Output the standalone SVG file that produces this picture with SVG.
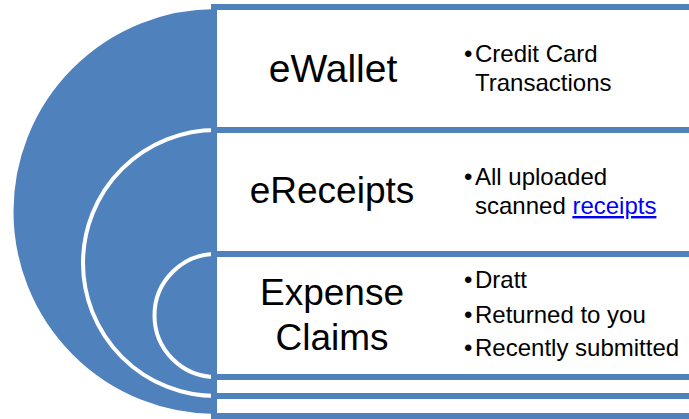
<svg xmlns="http://www.w3.org/2000/svg" width="689" height="419" viewBox="0 0 689 419">
<style>
.arc{fill:#4F81BD;stroke:#FFFFFF;stroke-width:4}
.box{fill:#FFFFFF;stroke:#4F81BD;stroke-width:6}
.lbl{font-family:"Liberation Sans",Arial,sans-serif;font-size:37px;fill:#000;text-anchor:middle}
.bul{font-family:"Liberation Sans",Arial,sans-serif;font-size:24px;fill:#000}
.lnk{fill:#0000FF;text-decoration:underline}
</style>
<g id="target">
<path class="arc" d="M216 7 A204.5 204.5 0 0 0 216 416 Z"/>
<path class="arc" d="M216 130 A133 133 0 0 0 216 396 Z"/>
<path class="arc" d="M216 254 A61.5 61.5 0 0 0 216 377 Z"/>
</g>
<g id="ewallet">
<rect class="box" x="214" y="7" width="480" height="409"/>
<text class="lbl" x="333" y="82" style="font-size:39px">eWallet</text>
<text class="bul" x="464" y="62">•<tspan x="475">Credit Card</tspan></text>
<text class="bul" x="475" y="91">Transactions</text>
</g>
<g id="ereceipts">
<rect class="box" x="214" y="130" width="480" height="266"/>
<text class="lbl" x="332" y="203">eReceipts</text>
<text class="bul" x="464" y="185">•<tspan x="475">All uploaded</tspan></text>
<text class="bul" x="475" y="214">scanned <tspan class="lnk">receipts</tspan></text>
</g>
<g id="expense">
<rect class="box" x="214" y="254" width="480" height="123"/>
<text class="lbl" x="332" y="305">Expense</text>
<text class="lbl" x="332" y="350">Claims</text>
<text class="bul" x="464" y="288">•<tspan x="475">Dratt</tspan></text>
<text class="bul" x="464" y="323">•<tspan x="475">Returned to you</tspan></text>
<text class="bul" x="464" y="356">•<tspan x="475">Recently submitted</tspan></text>
</g>
<g id="connectors"></g>
</svg>
